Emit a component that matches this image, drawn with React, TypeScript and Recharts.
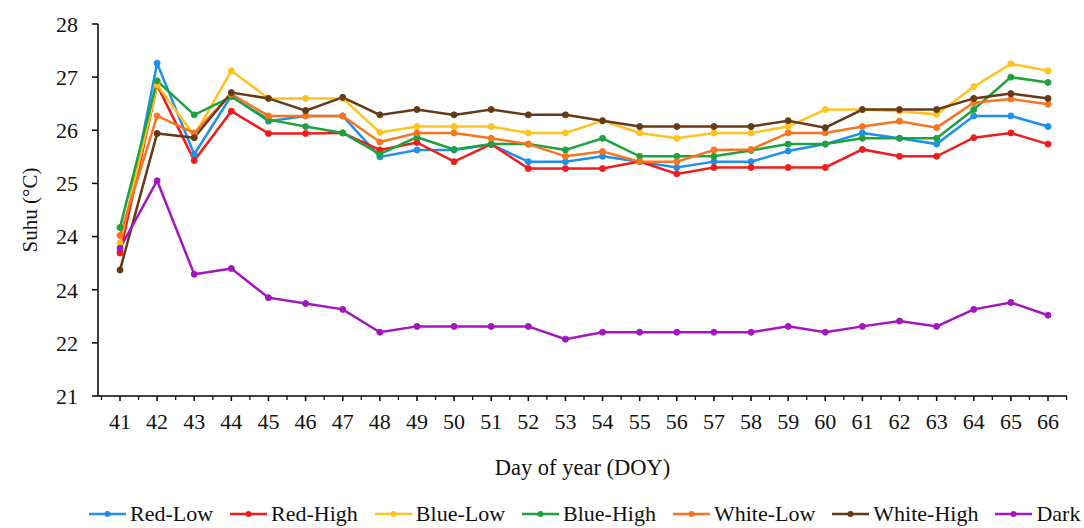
import { Legend, Line, LineChart, XAxis, YAxis } from 'recharts';

const days = [41, 42, 43, 44, 45, 46, 47, 48, 49, 50, 51, 52, 53, 54, 55, 56, 57, 58, 59, 60, 61, 62, 63, 64, 65, 66];

const redLow = [23.72, 27.26, 25.55, 26.65, 26.17, 26.27, 26.27, 25.5, 25.63, 25.63, 25.73, 25.41, 25.41, 25.51, 25.41, 25.3, 25.41, 25.41, 25.61, 25.74, 25.95, 25.85, 25.74, 26.27, 26.27, 26.07];
const redHigh = [23.69, 26.85, 25.43, 26.36, 25.94, 25.94, 25.95, 25.63, 25.77, 25.41, 25.74, 25.28, 25.28, 25.28, 25.41, 25.18, 25.3, 25.3, 25.3, 25.3, 25.64, 25.51, 25.51, 25.86, 25.95, 25.74];
const blueLow = [23.88, 26.85, 25.9, 27.12, 26.6, 26.6, 26.6, 25.96, 26.07, 26.07, 26.07, 25.95, 25.95, 26.18, 25.95, 25.85, 25.95, 25.95, 26.07, 26.39, 26.39, 26.36, 26.3, 26.82, 27.25, 27.12];
const blueHigh = [24.17, 26.93, 26.29, 26.63, 26.2, 26.07, 25.95, 25.55, 25.87, 25.64, 25.74, 25.74, 25.63, 25.85, 25.51, 25.51, 25.51, 25.62, 25.74, 25.74, 25.85, 25.85, 25.85, 26.39, 27.0, 26.9];
const whiteLow = [24.02, 26.27, 25.95, 26.68, 26.27, 26.27, 26.27, 25.78, 25.95, 25.95, 25.85, 25.74, 25.51, 25.6, 25.41, 25.41, 25.63, 25.64, 25.95, 25.95, 26.07, 26.17, 26.05, 26.52, 26.59, 26.49];
const whiteHigh = [23.37, 25.94, 25.86, 26.71, 26.6, 26.37, 26.62, 26.29, 26.39, 26.29, 26.39, 26.29, 26.29, 26.18, 26.07, 26.07, 26.07, 26.07, 26.18, 26.05, 26.39, 26.39, 26.39, 26.6, 26.69, 26.6];
const dark = [23.78, 25.05, 23.29, 23.4, 22.85, 22.74, 22.63, 22.2, 22.31, 22.31, 22.31, 22.31, 22.07, 22.2, 22.2, 22.2, 22.2, 22.2, 22.31, 22.2, 22.31, 22.41, 22.31, 22.63, 22.76, 22.52];

// the source axis prints "24" twice (the 23 slot reads 24)
const yTicks = [21, 22, 23, 24, 25, 26, 27, 28];
const yTickLabels = ['21', '22', '24', '24', '25', '26', '27', '28'];

const SERIES = [
  { name: 'Red-Low', values: redLow, color: '#1E8FEA' },
  { name: 'Red-High', values: redHigh, color: '#F01C1C' },
  { name: 'Blue-Low', values: blueLow, color: '#FFC21F' },
  { name: 'Blue-High', values: blueHigh, color: '#1EA23E' },
  { name: 'White-Low', values: whiteLow, color: '#F8741E' },
  { name: 'White-High', values: whiteHigh, color: '#653A16' },
  { name: 'Dark', values: dark, color: '#A316BE' },
];

const FONT = '"Liberation Serif", "Times New Roman", serif';

const rows = days.map((day, i) => {
  const row: Record<string, number> = { day };
  for (const s of SERIES) row[s.name] = s.values[i];
  return row;
});

// major tick under each day, minor tick halfway between days
function XTick(props: any) {
  const { x, y, payload, index } = props;
  const half = 18.56;
  return (
    <g>
      <line x1={x} y1={y} x2={x} y2={y + 5} stroke="#000" strokeWidth={1.5} />
      <line x1={x + half} y1={y} x2={x + half} y2={y + 4} stroke="#000" strokeWidth={1.2} />
      {index === 0 ? <line x1={x - half} y1={y} x2={x - half} y2={y + 4} stroke="#000" strokeWidth={1.2} /> : null}
      <text x={x} y={y + 33} textAnchor="middle" fontFamily={FONT} fontSize={22} fill="#111">
        {payload.value}
      </text>
    </g>
  );
}

function LegendBox() {
  return (
    <div
      style={{
        display: 'flex',
        justifyContent: 'flex-start',
        alignItems: 'center',
        height: 28,
        paddingLeft: 89,
        fontFamily: FONT,
        fontSize: 22,
        color: '#111',
        whiteSpace: 'nowrap',
      }}
    >
      {SERIES.map((s) => (
        <span key={s.name} style={{ display: 'inline-flex', alignItems: 'center', marginRight: 17 }}>
          <svg width={37} height={10}>
            <line x1={0} y1={5} x2={37} y2={5} stroke={s.color} strokeWidth={2.5} />
            <circle cx={18.5} cy={5} r={3} fill={s.color} />
          </svg>
          <span style={{ marginLeft: 4 }}>{s.name}</span>
        </span>
      ))}
    </div>
  );
}

export default function App() {
  return (
    <div style={{ position: 'absolute', left: 0, top: 0, background: '#fff' }}>
      <LineChart width={1084} height={528} data={rows} margin={{ top: 24, right: 17, bottom: 0, left: 0 }}>
        <XAxis
          dataKey="day"
          height={104}
          padding={{ left: 22, right: 19 }}
          axisLine={{ stroke: '#000', strokeWidth: 1.5 }}
          tickLine={false}
          tickSize={0}
          tickMargin={0}
          tick={<XTick />}
          interval={0}
          label={{
            value: 'Day of year (DOY)',
            position: 'insideBottom',
            offset: 25,
            style: { fontFamily: FONT, fontSize: 22.5, fill: '#111' },
          }}
        />
        <YAxis
          width={98}
          domain={[21, 28]}
          ticks={yTicks}
          interval={0}
          tickFormatter={(v: number) => yTickLabels[yTicks.indexOf(v)]}
          axisLine={{ stroke: '#000', strokeWidth: 1.5 }}
          tickLine={{ stroke: '#000', strokeWidth: 1.5 }}
          tickSize={6}
          tickMargin={14}
          tick={{ fontFamily: FONT, fontSize: 22, fill: '#111' }}
          label={{
            value: 'Suhu (°C)',
            angle: -90,
            position: 'insideLeft',
            offset: 30,
            style: { fontFamily: FONT, fontSize: 21, fill: '#111', textAnchor: 'middle' },
          }}
        />
        <Legend verticalAlign="bottom" height={28} content={<LegendBox />} wrapperStyle={{ left: 0, width: 1084 }} />
        {SERIES.map((s) => (
          <Line
            key={s.name}
            type="linear"
            dataKey={s.name}
            stroke={s.color}
            strokeWidth={2.5}
            dot={{ r: 3, fill: s.color, stroke: s.color, strokeWidth: 1 }}
            activeDot={false}
            isAnimationActive={false}
          />
        ))}
      </LineChart>
    </div>
  );
}
